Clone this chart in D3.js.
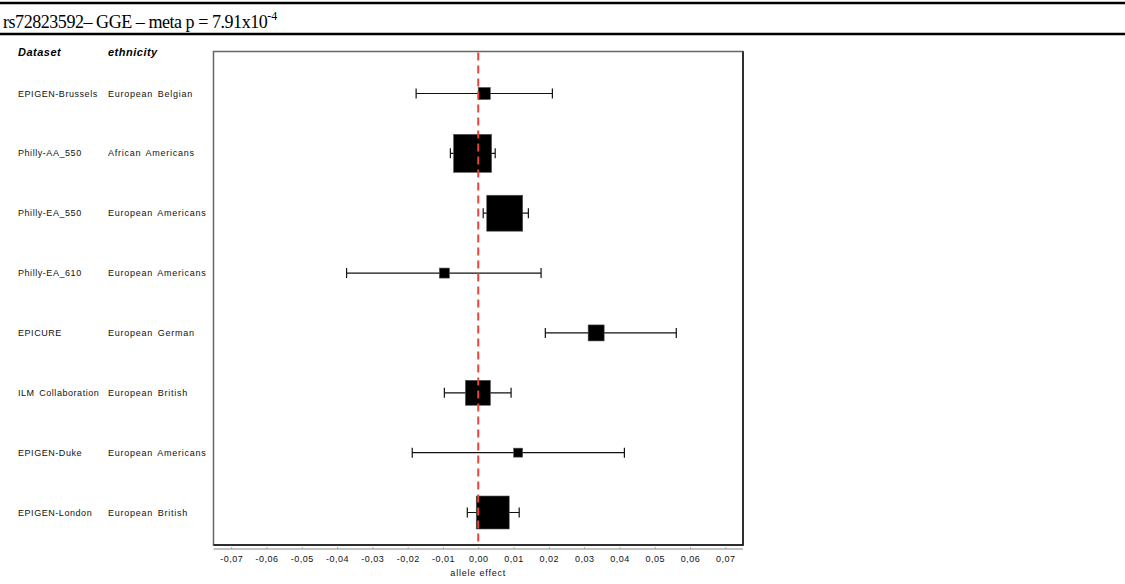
<!DOCTYPE html>
<html>
<head>
<meta charset="utf-8">
<script src="https://cdn.jsdelivr.net/npm/d3@7"></script>
<style>
  body { margin: 0; background: #fff; }
  svg { display: block; font-family: "Liberation Sans", Arial, sans-serif; }
  .lbl { font-size: 9px; letter-spacing: 0.55px; word-spacing: 1.5px; fill: #111; }
  .eth { letter-spacing: 0.75px; }
  .hdr { font-size: 11px; font-weight: bold; font-style: italic; letter-spacing: 0.5px; fill: #000; }
</style>
</head>
<body>
<div id="chart"></div>
<script>
// values
const datasets = ['EPIGEN-Brussels', 'Philly-AA_550', 'Philly-EA_550', 'Philly-EA_610',
  'EPICURE', 'ILM Collaboration', 'EPIGEN-Duke', 'EPIGEN-London']
const ethnicities = ['European Belgian', 'African Americans', 'European Americans', 'European Americans',
  'European German', 'European British', 'European Americans', 'European British']
const estimates = [0.0017, -0.0016, 0.0075, -0.0096, 0.0334, -0.0001, 0.0113, 0.0041]
const ciLower = [-0.0176, -0.0079, 0.0014, -0.0373, 0.0190, -0.0096, -0.0187, -0.0031]
const ciUpper = [0.0210, 0.0048, 0.0142, 0.0178, 0.0561, 0.0093, 0.0414, 0.0116]
const weights = [2.9, 28.7, 25.7, 2.0, 5.1, 12.4, 1.6, 21.6]
const tickValues = [-0.07, -0.06, -0.05, -0.04, -0.03, -0.02, -0.01, 0, 0.01, 0.02, 0.03, 0.04, 0.05, 0.06, 0.07]

const W = 1125, H = 584
const box = { left: 213.5, right: 743, top: 51.5, bottom: 545 }

const svg = d3.select('#chart').append('svg')
  .attr('width', W)
  .attr('height', H)

svg.append('rect').attr('width', W).attr('height', H).attr('fill', '#fff')

// title band
svg.append('line').attr('x1', 0).attr('x2', W).attr('y1', 3).attr('y2', 3)
  .attr('stroke', '#000').attr('stroke-width', 2.5)
svg.append('line').attr('x1', 0).attr('x2', W).attr('y1', 34).attr('y2', 34)
  .attr('stroke', '#000').attr('stroke-width', 2.5)

const title = svg.append('text')
  .attr('x', 3).attr('y', 28)
  .style('font-family', '"Liberation Serif", "Times New Roman", serif')
  .style('font-size', '18px')
  .style('letter-spacing', '-0.45px')
  .attr('fill', '#000')
title.append('tspan').text('rs72823592– GGE – meta p = 7.91x10')
title.append('tspan').attr('dy', -8).style('font-size', '12px').style('letter-spacing', '0px').text('-4')

const x = d3.scaleLinear().domain([-0.075, 0.075]).range([box.left, box.right])
const y = d3.scalePoint().domain(datasets).range([93.5, 512.5])
const side = d3.scaleSqrt().domain([0, d3.max(weights)]).range([0, 38])

// column headers
svg.append('text').attr('class', 'hdr').attr('x', 18).attr('y', 56).text('Dataset')
svg.append('text').attr('class', 'hdr').attr('x', 108).attr('y', 56).text('ethnicity')

// row labels
const rows = datasets.map((d, i) => ({
  name: d, eth: ethnicities[i], est: estimates[i], lo: ciLower[i], hi: ciUpper[i], w: weights[i]
}))

svg.selectAll('.name').data(rows).enter().append('text')
  .attr('class', 'lbl name')
  .attr('x', 18).attr('y', d => y(d.name) + 3)
  .text(d => d.name)

svg.selectAll('.eth').data(rows).enter().append('text')
  .attr('class', 'lbl eth')
  .attr('x', 108).attr('y', d => y(d.name) + 3)
  .text(d => d.eth)

// plot frame
svg.append('rect')
  .attr('x', box.left).attr('y', box.top)
  .attr('width', box.right - box.left).attr('height', box.bottom - box.top)
  .attr('fill', 'none').attr('stroke', '#666').attr('stroke-width', 1.5)
svg.append('polyline')
  .attr('points', `${box.right},${box.top} ${box.right},${box.bottom} ${box.left},${box.bottom}`)
  .attr('fill', 'none').attr('stroke', '#111').attr('stroke-width', 1.5)

// x axis
const fmt = v => d3.format('.2f')(v).replace('.', ',').replace('−', '-')
const axis = d3.axisBottom(x).tickValues(tickValues).tickSize(-2).tickPadding(7).tickFormat(fmt)
const gx = svg.append('g').attr('transform', `translate(0,549)`).call(axis)
gx.select('.domain').attr('stroke', '#888').attr('stroke-width', 1.2).attr('d', `M${box.left},0H${box.right}`)
gx.selectAll('.tick line').attr('stroke', '#aaa')
gx.selectAll('.tick text')
  .style('font-family', '"Liberation Sans", Arial, sans-serif')
  .style('font-size', '9px').style('letter-spacing', '0.5px').attr('fill', '#111')

svg.append('text')
  .attr('x', x(0)).attr('y', 576)
  .attr('text-anchor', 'middle')
  .style('font-size', '9px').style('letter-spacing', '0.8px')
  .attr('fill', '#111')
  .text('allele effect')

// confidence intervals
const ci = svg.append('g').attr('stroke', '#111').attr('stroke-width', 1.2)
ci.selectAll('.whisker').data(rows).enter().append('line')
  .attr('x1', d => x(d.lo)).attr('x2', d => x(d.hi))
  .attr('y1', d => y(d.name)).attr('y2', d => y(d.name))
ci.selectAll('.capl').data(rows).enter().append('line')
  .attr('x1', d => x(d.lo)).attr('x2', d => x(d.lo))
  .attr('y1', d => y(d.name) - 5).attr('y2', d => y(d.name) + 5)
ci.selectAll('.caph').data(rows).enter().append('line')
  .attr('x1', d => x(d.hi)).attr('x2', d => x(d.hi))
  .attr('y1', d => y(d.name) - 5).attr('y2', d => y(d.name) + 5)

// estimate squares sized by weight
svg.selectAll('.est').data(rows).enter().append('rect')
  .attr('x', d => x(d.est) - side(d.w) / 2)
  .attr('y', d => y(d.name) - side(d.w) / 2)
  .attr('width', d => side(d.w))
  .attr('height', d => side(d.w))
  .attr('fill', '#000')
  .attr('stroke', '#555').attr('stroke-width', 0.6)

// null line
svg.append('line')
  .attr('x1', x(0)).attr('x2', x(0))
  .attr('y1', box.top + 1).attr('y2', box.bottom)
  .attr('stroke', '#e5453d').attr('stroke-width', 2)
  .attr('stroke-dasharray', '8,5')
</script>
</body>
</html>
